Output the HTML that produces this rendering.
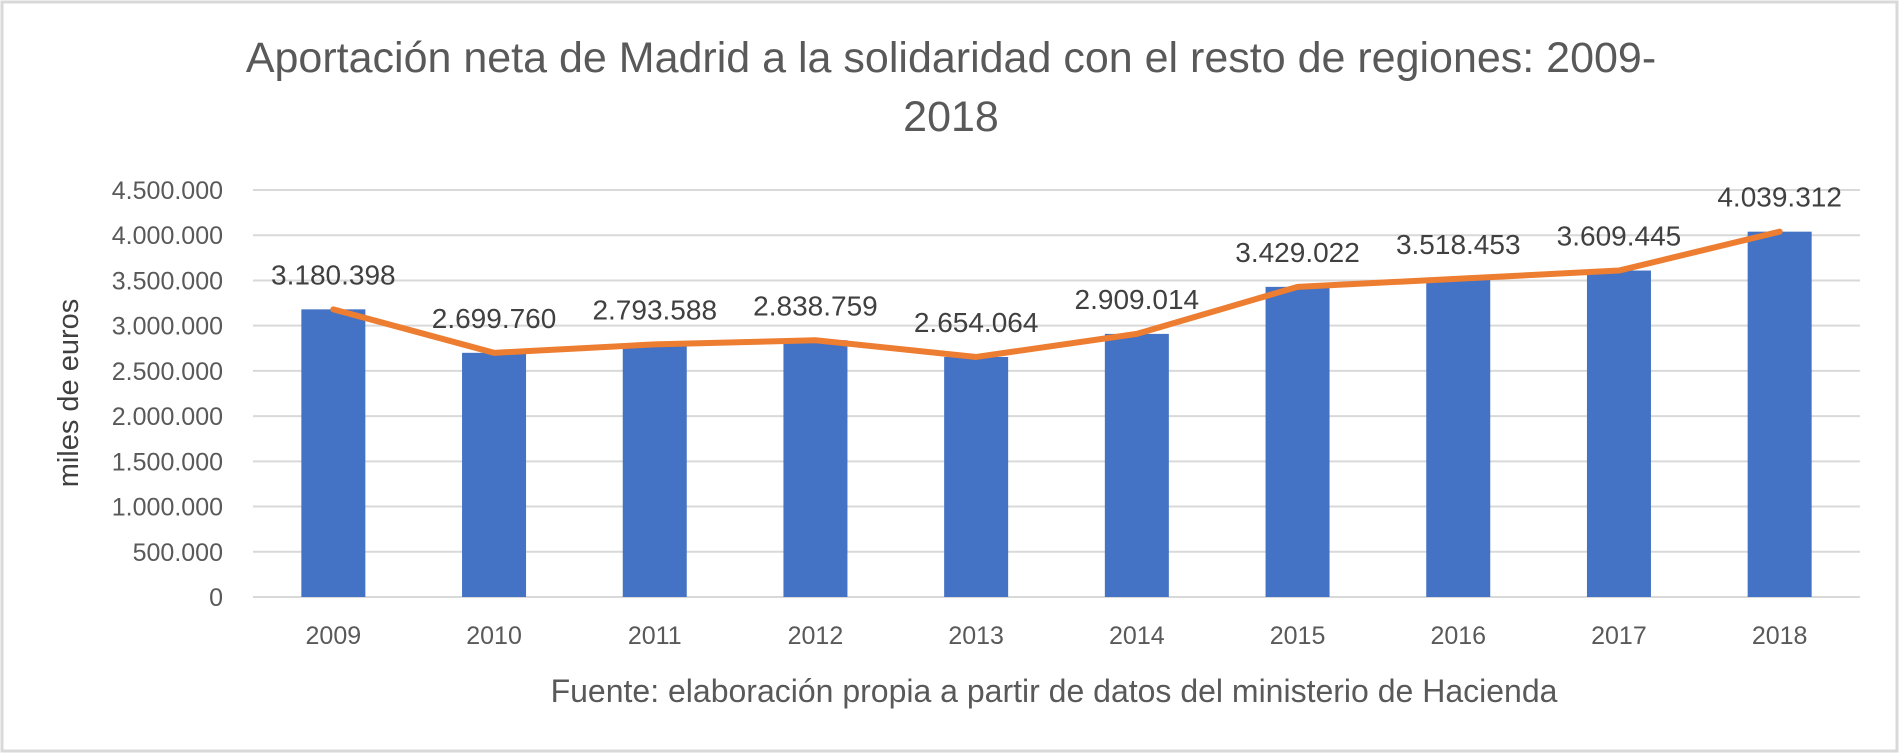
<!DOCTYPE html>
<html><head><meta charset="utf-8"><style>
html,body{margin:0;padding:0;background:#fff;}
svg{display:block;font-family:"Liberation Sans","DejaVu Sans",sans-serif;}
</style></head><body>
<svg id="chart" width="1900" height="754" viewBox="0 0 1900 754">
<rect x="2" y="2" width="1895" height="749" fill="#fff" stroke="#d9d9d9" stroke-width="3"/>
<text x="951" y="72" text-anchor="middle" font-size="43" fill="#595959">Aportación neta de Madrid a la solidaridad con el resto de regiones: 2009-</text>
<text x="951" y="131" text-anchor="middle" font-size="43" fill="#595959">2018</text>
<text transform="translate(78,393) rotate(-90)" text-anchor="middle" font-size="29" fill="#404040">miles de euros</text>
<text x="1054" y="702" text-anchor="middle" font-size="32" fill="#595959">Fuente: elaboración propia a partir de datos del ministerio de Hacienda</text>
<g id="grid"></g><g id="bars"></g><g id="line"></g><g id="labels"></g>
</svg>
<script>
const categories=["2009","2010","2011","2012","2013","2014","2015","2016","2017","2018"];
const values=[3180398,2699760,2793588,2838759,2654064,2909014,3429022,3518453,3609445,4039312];
const valueLabels=["3.180.398","2.699.760","2.793.588","2.838.759","2.654.064","2.909.014","3.429.022","3.518.453","3.609.445","4.039.312"];
const ticks=[0,500000,1000000,1500000,2000000,2500000,3000000,3500000,4000000,4500000];
const tickLabels=["0","500.000","1.000.000","1.500.000","2.000.000","2.500.000","3.000.000","3.500.000","4.000.000","4.500.000"];
const NS="http://www.w3.org/2000/svg";
const X0=253,X1=1860,Y0=597,Y1=190,YMAX=4500000;
const bw=(X1-X0)/categories.length;
const y=v=>Y0-(v/YMAX)*(Y0-Y1);
const xc=i=>X0+bw*(i+0.5);
function mk(tag,attrs,parent){const e=document.createElementNS(NS,tag);for(const k in attrs)e.setAttribute(k,attrs[k]);document.getElementById(parent).appendChild(e);return e;}
ticks.forEach((t,i)=>{
  const l=mk('line',{x1:X0,x2:X1,y1:y(t),y2:y(t),stroke:'#d9d9d9','stroke-width':2},'grid');
  
  
  const tx=mk('text',{x:223,y:y(t)+9,'text-anchor':'end','font-size':25,fill:'#595959'},'grid');
  tx.textContent=tickLabels[i];
  
  
});
categories.forEach((c,i)=>{
  const b=mk('rect',{x:xc(i)-32,y:y(values[i]),width:64,height:Y0-y(values[i]),fill:'#4472C4'},'bars');
  
  
  const t=mk('text',{x:xc(i),y:644,'text-anchor':'middle','font-size':25,fill:'#595959'},'labels');
  t.textContent=c;
  
  
  const d=mk('text',{x:xc(i),y:y(values[i])-25,'text-anchor':'middle','font-size':28,fill:'#404040'},'labels');
  d.textContent=valueLabels[i];
  
  
});
const pts=values.map((v,i)=>xc(i)+','+y(v)).join(' ');
const pl=mk('polyline',{points:pts,fill:'none',stroke:'#ED7D31','stroke-width':6,'stroke-linejoin':'round','stroke-linecap':'round'},'line');


</script>
</body></html>
